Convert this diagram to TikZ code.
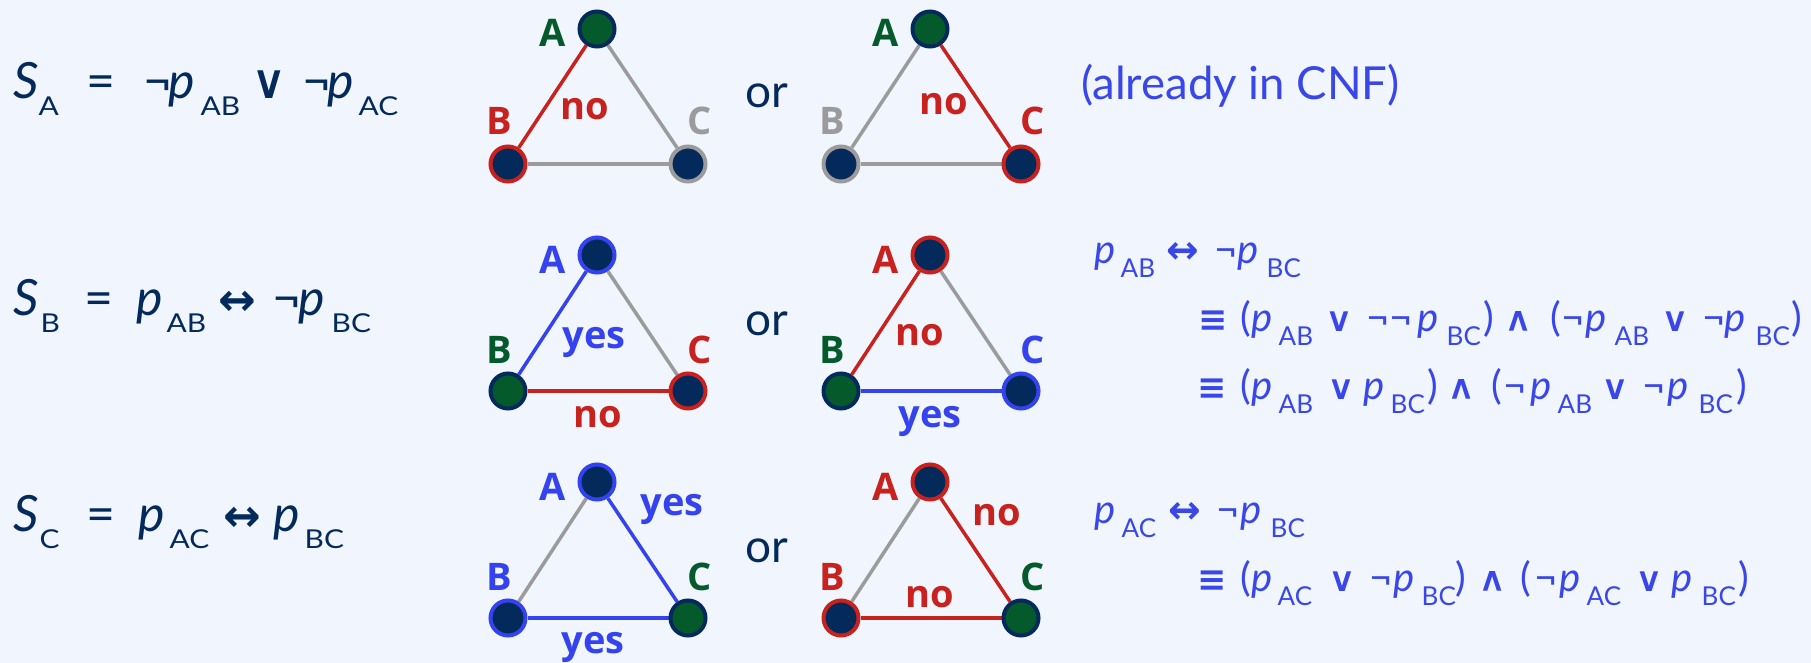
\documentclass[tikz,border=0pt]{standalone}
\usepackage{fontspec}
\usepackage{graphicx}
\setmainfont{Lato}
\newfontfamily\lato{Lato}
\newfontfamily\subfL[FakeStretch=1.15]{Lato}
\newfontfamily\djv{DejaVu Sans}
\newfontfamily\osans{Open Sans}
\definecolor{bgc}{HTML}{F0F5FE}
\definecolor{navy}{HTML}{032A5A}
\definecolor{dgreen}{HTML}{045A2A}
\definecolor{cred}{HTML}{C8221F}
\definecolor{cgray}{HTML}{9B9B9B}
\definecolor{cblue}{HTML}{3443EE}
\definecolor{fblue}{HTML}{3A47E8}
\newcommand\at[2]{\rlap{\hspace*{#1pt}#2}}
% left formulas
\newcommand\LF{\fontsize{50}{58}\selectfont\lato}
\newcommand\Li[1]{\textit{#1}}
\newcommand\Ls[1]{\raisebox{-17pt}{\fontsize{26}{26}\selectfont\subfL #1}}
\newcommand\Lv{\scalebox{0.8}[1]{\djv\bfseries\fontsize{38}{38}\selectfont V}}
\newcommand\Liff{{\djv\bfseries\fontsize{45}{45}\selectfont ↔}}
% right formulas
\newcommand\RF{\fontsize{40}{48}\selectfont\lato}
\newcommand\Rs[1]{\raisebox{-14pt}{\fontsize{26}{26}\selectfont #1}}
\newcommand\Rv{\scalebox{0.9}[1]{\djv\bfseries\fontsize{27}{27}\selectfont V}}
\newcommand\Rw{\rotatebox[origin=c]{180}{\Rv}}
\newcommand\Req{{\djv\bfseries\fontsize{35}{35}\selectfont ≡}}
\newcommand\Riff{{\djv\bfseries\fontsize{39}{39}\selectfont ↔}}
\pgfdeclarelayer{edges}
\pgfsetlayers{edges,main}
\begin{document}
\begin{tikzpicture}[x=1pt,y=-1pt,
  vtx/.style={circle,minimum size=35pt,inner sep=0pt,line width=4pt,fill=navy,draw=#1},
  self/.style={vtx=navy,fill=dgreen},
  edge/.style={line width=3.5pt,draw=#1},
  lab/.style={font=\osans\bfseries\fontsize{38}{38}\selectfont,text=#1,anchor=base,inner sep=0pt},
  ftxt/.style={anchor=base west,inner sep=0pt,text=#1},
  ortxt/.style={font=\lato\fontsize{46}{46}\selectfont,text=navy,anchor=base,inner sep=0pt}]
\begin{pgfonlayer}{edges}
\fill[bgc] (0,0) rectangle (1811,663);
\end{pgfonlayer}
\useasboundingbox (0,0) rectangle (1811,663);

% ---------- left formulas ----------
\node[ftxt=navy] (SA) at (0,99) {\LF\at{13}{\Li{S}}\at{38}{\Ls{A}}\at{86}{=}\at{143}{¬}\at{168}{\Li{p}}\at{200}{\Ls{AB}}\at{257}{\Lv}\at{302}{¬}\at{327}{\Li{p}}\at{358}{\Ls{AC}}};
\node[ftxt=navy] (SB) at (0,315) {\LF\at{13}{\Li{S}}\at{40}{\Ls{B}}\at{84}{=}\at{136}{\Li{p}}\at{166}{\Ls{AB}}\at{218}{\Liff}\at{272}{¬}\at{298}{\Li{p}}\at{331}{\Ls{BC}}};
\node[ftxt=navy] (SC) at (0,531) {\LF\at{13}{\Li{S}}\at{39}{\Ls{C}}\at{86}{=}\at{138}{\Li{p}}\at{169}{\Ls{AC}}\at{223}{\Liff}\at{273}{\Li{p}}\at{304}{\Ls{BC}}};

% ---------- "or" ----------
\node[ortxt] (or1) at (767,108) {or};
\node[ortxt] (or2) at (767,335) {or};
\node[ortxt] (or3) at (767,562) {or};

% ---------- row 1 ----------
\node[self] (A11) at (597,29) {};
\node[vtx=cred] (B11) at (508,164) {};
\node[vtx=cgray] (C11) at (688,164) {};
\node[lab=dgreen] (lA11) at (553,47) {A};
\node[lab=cred] (lB11) at (499,135) {B};
\node[lab=cgray] (lC11) at (700,135) {C};
\node[lab=cred] (e11) at (585,120) {no};
\node[self] (A12) at (930,29) {};
\node[vtx=cgray] (B12) at (841,164) {};
\node[vtx=cred] (C12) at (1021,164) {};
\node[lab=dgreen] (lA12) at (886,47) {A};
\node[lab=cgray] (lB12) at (832,135) {B};
\node[lab=cred] (lC12) at (1033,135) {C};
\node[lab=cred] (e12) at (944,115) {no};
\node[ftxt=fblue] (cnf) at (1081,100) {\lato\fontsize{45.5}{45.5}\selectfont (already in CNF)};

% ---------- row 2 ----------
\node[vtx=cblue] (A21) at (597,255) {};
\node[self] (B21) at (508,391) {};
\node[vtx=cred] (C21) at (688,391) {};
\node[lab=cblue] (lA21) at (553,273) {A};
\node[lab=dgreen] (lB21) at (499,363) {B};
\node[lab=cred] (lC21) at (700,363) {C};
\node[lab=cblue] (e21a) at (594,348) {yes};
\node[lab=cred] (e21b) at (598,427) {no};
\node[vtx=cred] (A22) at (930,255) {};
\node[self] (B22) at (841,391) {};
\node[vtx=cblue] (C22) at (1021,391) {};
\node[lab=cred] (lA22) at (886,273) {A};
\node[lab=dgreen] (lB22) at (832,363) {B};
\node[lab=cblue] (lC22) at (1033,363) {C};
\node[lab=cred] (e22a) at (920,345) {no};
\node[lab=cblue] (e22b) at (930,427) {yes};

% ---------- row 3 ----------
\node[vtx=cblue] (A31) at (597,482) {};
\node[vtx=cblue] (B31) at (508,618) {};
\node[self] (C31) at (688,618) {};
\node[lab=cblue] (lA31) at (553,500) {A};
\node[lab=cblue] (lB31) at (499,590) {B};
\node[lab=dgreen] (lC31) at (700,590) {C};
\node[lab=cblue] (e31a) at (672,515) {yes};
\node[lab=cblue] (e31b) at (593,653) {yes};
\node[vtx=cred] (A32) at (930,482) {};
\node[vtx=cred] (B32) at (841,618) {};
\node[self] (C32) at (1021,618) {};
\node[lab=cred] (lA32) at (886,500) {A};
\node[lab=cred] (lB32) at (832,590) {B};
\node[lab=dgreen] (lC32) at (1033,590) {C};
\node[lab=cred] (e32a) at (997,525) {no};
\node[lab=cred] (e32b) at (930,607) {no};

% ---------- edges ----------
\begin{pgfonlayer}{edges}
\draw[edge=cred] (A11) -- (B11);
\draw[edge=cgray] (A11) -- (C11);
\draw[edge=cgray] (B11) -- (C11);
\draw[edge=cgray] (A12) -- (B12);
\draw[edge=cred] (A12) -- (C12);
\draw[edge=cgray] (B12) -- (C12);
\draw[edge=cblue] (A21) -- (B21);
\draw[edge=cgray] (A21) -- (C21);
\draw[edge=cred] (B21) -- (C21);
\draw[edge=cred] (A22) -- (B22);
\draw[edge=cgray] (A22) -- (C22);
\draw[edge=cblue] (B22) -- (C22);
\draw[edge=cgray] (A31) -- (B31);
\draw[edge=cblue] (A31) -- (C31);
\draw[edge=cblue] (B31) -- (C31);
\draw[edge=cgray] (A32) -- (B32);
\draw[edge=cred] (A32) -- (C32);
\draw[edge=cred] (B32) -- (C32);
\end{pgfonlayer}

% ---------- right formulas ----------
\node[ftxt=fblue] (R21) at (0,263) {\RF\at{1094}{\Li{p}}\at{1120}{\Rs{AB}}\at{1166}{\Riff}\at{1214}{¬}\at{1237}{\Li{p}}\at{1266}{\Rs{BC}}};
\node[ftxt=fblue] (R22) at (0,331) {\RF\at{1198}{\Req}\at{1240}{(}\at{1251}{\Li{p}}\at{1278}{\Rs{AB}}\at{1329}{\Rv}\at{1366}{¬¬}\at{1417}{\Li{p}}\at{1446}{\Rs{BC}}\at{1483}{)}\at{1508}{\Rw}\at{1550}{(}\at{1561}{¬}\at{1585}{\Li{p}}\at{1614}{\Rs{AB}}\at{1665}{\Rv}\at{1702}{¬}\at{1724}{\Li{p}}\at{1755}{\Rs{BC}}\at{1791}{)}};
\node[ftxt=fblue] (R23) at (0,399) {\RF\at{1197}{\Req}\at{1240}{(}\at{1251}{\Li{p}}\at{1278}{\Rs{AB}}\at{1331}{\Rv}\at{1363}{\Li{p}}\at{1390}{\Rs{BC}}\at{1427}{)}\at{1451}{\Rw}\at{1491}{(}\at{1503}{¬}\at{1530}{\Li{p}}\at{1557}{\Rs{AB}}\at{1605}{\Rv}\at{1642}{¬}\at{1667}{\Li{p}}\at{1698}{\Rs{BC}}\at{1736}{)}};
\node[ftxt=fblue] (R31) at (0,523) {\RF\at{1094}{\Li{p}}\at{1121}{\Rs{AC}}\at{1168}{\Riff}\at{1216}{¬}\at{1240}{\Li{p}}\at{1270}{\Rs{BC}}};
\node[ftxt=fblue] (R32) at (0,591) {\RF\at{1197}{\Req}\at{1240}{(}\at{1251}{\Li{p}}\at{1277}{\Rs{AC}}\at{1332}{\Rv}\at{1369}{¬}\at{1393}{\Li{p}}\at{1421}{\Rs{BC}}\at{1455}{)}\at{1482}{\Rw}\at{1520}{(}\at{1534}{¬}\at{1559}{\Li{p}}\at{1586}{\Rs{AC}}\at{1639}{\Rv}\at{1671}{\Li{p}}\at{1701}{\Rs{BC}}\at{1738}{)}};
\end{tikzpicture}
\end{document}
